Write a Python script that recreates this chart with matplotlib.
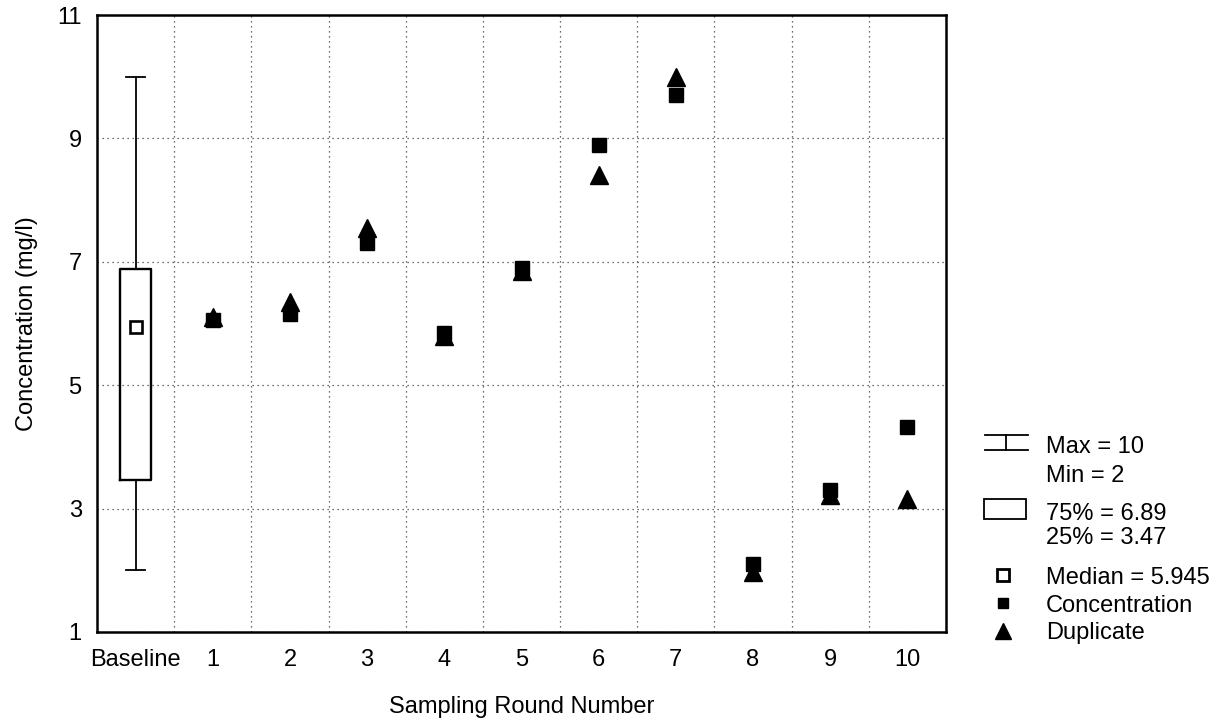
import matplotlib
matplotlib.use("Agg")
import matplotlib.pyplot as plt
from matplotlib.patches import Rectangle

plt.rcParams['font.family'] = ['Liberation Sans', 'DejaVu Sans']
plt.rcParams['font.size'] = 17

# Baseline summary statistics
baseline_max = 10
baseline_min = 2
baseline_q3 = 6.89
baseline_q1 = 3.47
baseline_median = 5.945

# Sampling rounds
rounds = [1, 2, 3, 4, 5, 6, 7, 8, 9, 10]
concentration = [6.05, 6.15, 7.3, 5.85, 6.9, 8.9, 9.7, 2.1, 3.3, 4.32]
duplicate = [6.1, 6.35, 7.55, 5.8, 6.85, 8.4, 10.0, 1.97, 3.22, 3.15]

x_labels = ['Baseline'] + [str(r) for r in rounds]
y_ticks = [1, 3, 5, 7, 9, 11]

W, H = 1231, 725
fig = plt.figure(figsize=(W / 100, H / 100), dpi=100)
ax = fig.add_axes([97 / W, 1 - 632 / H, (946 - 97) / W, (632 - 15) / H])

# Baseline box-and-whisker
stats = [dict(med=baseline_median, q1=baseline_q1, q3=baseline_q3,
              whislo=baseline_min, whishi=baseline_max, fliers=[])]
ax.bxp(stats, positions=[0], widths=0.4, showfliers=False,
       boxprops=dict(color='black', linewidth=1.7),
       whiskerprops=dict(color='black', linewidth=1.3),
       capprops=dict(color='black', linewidth=1.3),
       medianprops=dict(linewidth=0), manage_ticks=False)
ax.plot([0], [baseline_median], marker='s', markersize=9, markerfacecolor='white',
        markeredgecolor='black', markeredgewidth=1.9, linestyle='none', zorder=5)
# narrower whisker caps
for line in ax.lines:
    xd = line.get_xdata()
    yd = line.get_ydata()
    if len(xd) == 2 and yd[0] == yd[1] and yd[0] in (baseline_min, baseline_max):
        line.set_xdata([-0.125, 0.125])

ax.plot(rounds, concentration, linestyle='none', marker='s', markersize=9.5,
        color='black', zorder=4)
ax.plot(rounds, duplicate, linestyle='none', marker='^', markersize=12.5,
        color='black', zorder=5)

ax.set_xlim(-0.5, 10.5)
ax.set_ylim(1, 11)
ax.set_xticks(range(len(x_labels)))
ax.set_xticklabels(x_labels)
ax.set_xticks([i + 0.5 for i in range(len(x_labels) - 1)], minor=True)
ax.set_yticks(y_ticks)
ax.tick_params(axis='both', which='both', length=0)
ax.tick_params(axis='x', pad=12)
ax.tick_params(axis='y', pad=11)
ax.xaxis.grid(True, which='minor', linestyle=(0, (1, 3)), color='0.25', linewidth=0.9)
ax.yaxis.grid(True, which='major', linestyle=(0, (1, 3)), color='0.25', linewidth=0.9)
ax.set_axisbelow(True)
for s in ax.spines.values():
    s.set_linewidth(1.8)

ax.set_xlabel('Sampling Round Number', labelpad=18)
ax.set_ylabel('Concentration (mg/l)', labelpad=14)

# Legend panel drawn in pixel coordinates
lax = fig.add_axes([0, 0, 1, 1])
lax.set_xlim(0, W)
lax.set_ylim(H, 0)
lax.axis('off')
lx, tx = 1006, 1046
lax.plot([985, 1028], [435, 435], color='black', lw=1.3)
lax.plot([985, 1028], [450, 450], color='black', lw=1.3)
lax.plot([lx, lx], [435, 450], color='black', lw=1.3)
lax.add_patch(Rectangle((984, 499), 42, 20, fill=False, edgecolor='black', lw=1.3))
lax.plot([lx - 3], [575], marker='s', markersize=8, markerfacecolor='white',
         markeredgecolor='black', markeredgewidth=2)
lax.plot([lx - 3], [603], marker='s', markersize=7.5, color='black')
lax.plot([lx - 3], [631], marker='^', markersize=11, color='black')

legend_rows = [
    (444, f'Max = {baseline_max:g}'),
    (473, f'Min = {baseline_min:g}'),
    (511, f'75% = {baseline_q3:g}'),
    (535, f'25% = {baseline_q1:g}'),
    (575, f'Median = {baseline_median:g}'),
    (603, 'Concentration'),
    (631, 'Duplicate'),
]
for y, txt in legend_rows:
    lax.text(tx, y, txt, ha='left', va='center_baseline', fontsize=17)

fig.savefig('out.png', dpi=100)
